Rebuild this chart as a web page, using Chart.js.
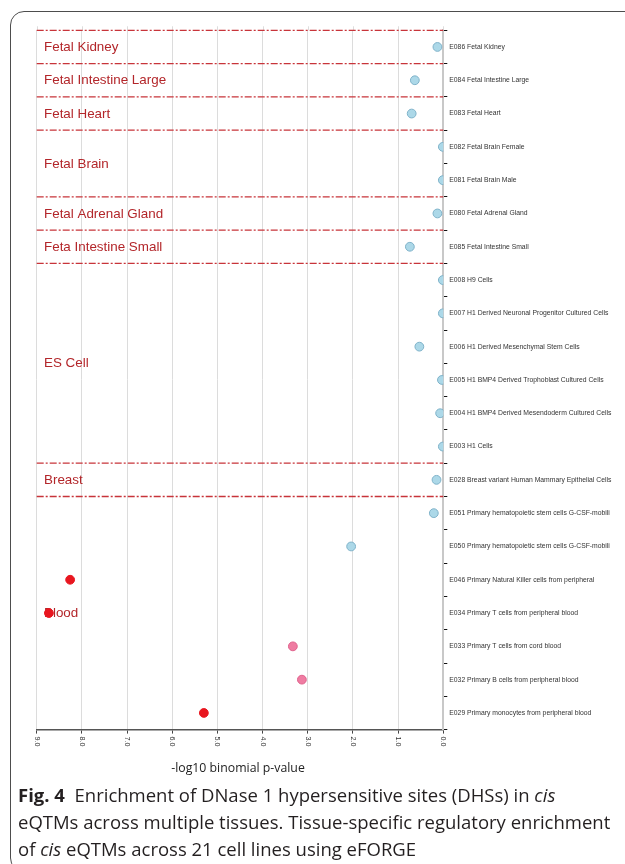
<!DOCTYPE html>
<html>
<head>
<meta charset="utf-8">
<script src="https://cdn.jsdelivr.net/npm/chart.js@4/dist/chart.umd.min.js"></script>
<style>
  html, body { margin: 0; padding: 0; background: #fff; }
  body { width: 625px; height: 864px; position: relative; overflow: hidden; }
  #frame {
    position: absolute; left: 10px; top: 11px; width: 700px; height: 861px;
    border: 1.5px solid #4d4d4d; border-radius: 14px; box-sizing: border-box;
  }
  #chart { position: absolute; left: 0; top: 0; }
  #xtitle {
    position: absolute; left: 138px; top: 759px; width: 200px; text-align: center;
    font-family: "Open Sans", sans-serif; font-size: 12.3px; line-height: 18px; color: #222;
  }
  #caption {
    position: absolute; left: 18px; top: 781px; width: 620px;
    font-family: "Open Sans", sans-serif; font-size: 18.5px; line-height: 27px;
    color: #231f20; letter-spacing: 0px; white-space: nowrap;
  }
  #caption b { font-weight: 700; }
</style>
</head>
<body>
<div id="frame"></div>
<canvas id="chart" width="625" height="864"></canvas>
<div id="xtitle">-log10 binomial p-value</div>
<div id="caption"><b>Fig. 4</b>&nbsp; Enrichment of DNase 1 hypersensitive sites (DHSs) in <i>cis</i><br>eQTMs across multiple tissues. Tissue-specific regulatory enrichment<br>of <i>cis</i> eQTMs across 21 cell lines using eFORGE</div>
<script>
// Cell lines, top to bottom
const cellLines = [
  'E086 Fetal Kidney',
  'E084 Fetal Intestine Large',
  'E083 Fetal Heart',
  'E082 Fetal Brain Female',
  'E081 Fetal Brain Male',
  'E080 Fetal Adrenal Gland',
  'E085 Fetal Intestine Small',
  'E008 H9 Cells',
  'E007 H1 Derived Neuronal Progenitor Cultured Cells',
  'E006 H1 Derived Mesenchymal Stem Cells',
  'E005 H1 BMP4 Derived Trophoblast Cultured Cells',
  'E004 H1 BMP4 Derived Mesendoderm Cultured Cells',
  'E003 H1 Cells',
  'E028 Breast variant Human Mammary Epithelial Cells',
  'E051 Primary hematopoietic stem cells G-CSF-mobili',
  'E050 Primary hematopoietic stem cells G-CSF-mobili',
  'E046 Primary Natural Killer cells from peripheral',
  'E034 Primary T cells from peripheral blood',
  'E033 Primary T cells from cord blood',
  'E032 Primary B cells from peripheral blood',
  'E029 Primary monocytes from peripheral blood'
];

// -log10 binomial p-value per cell line
const negLogP = [
  0.13, 0.63, 0.70, 0.01, 0.01, 0.13, 0.74,
  0.01, 0.01, 0.53, 0.03, 0.07, 0.01,
  0.15,
  0.21, 2.04, 8.26, 8.73, 3.33, 3.13, 5.30
];

// Tissue groups and how many cell lines each spans
const tissueNames = [
  'Fetal Kidney', 'Fetal Intestine Large', 'Fetal Heart', 'Fetal Brain',
  'Fetal Adrenal Gland', 'Feta Intestine Small', 'ES Cell', 'Breast', 'Blood'
];
const tissueSizes = [1, 1, 1, 2, 1, 1, 6, 1, 7];

const xTickLabels = ['0.0', '1.0', '2.0', '3.0', '4.0', '5.0', '6.0', '7.0', '8.0', '9.0'];

// Significance colouring
function fillFor(v) {
  if (v >= 5) return '#e8161f';
  if (v >= 3) return '#ef7ca2';
  return '#acd8e8';
}
function edgeFor(v) {
  if (v >= 5) return '#e8161f';
  if (v >= 3) return '#e0628c';
  return '#7fb2c9';
}

const points = cellLines.map((name, i) => ({ x: negLogP[i], y: name }));

const tissueBands = {
  id: 'tissueBands',
  beforeDatasetsDraw(chart) {
    const { ctx, chartArea } = chart;
    const ys = chart.scales.y;
    const xs = chart.scales.x;
    const step = ys.getPixelForValue(1) - ys.getPixelForValue(0);
    ctx.save();
    // short continuation of the vertical grid above the first band
    ctx.strokeStyle = '#dcdcdc';
    ctx.lineWidth = 1;
    xTickLabels.forEach(lbl => {
      const px = Math.round(xs.getPixelForValue(parseFloat(lbl))) + 0.5;
      ctx.beginPath();
      ctx.moveTo(px, chartArea.top - 4);
      ctx.lineTo(px, chartArea.top);
      ctx.stroke();
    });
    let start = 0;
    tissueNames.forEach((name, g) => {
      const end = start + tissueSizes[g] - 1;
      const top = ys.getPixelForValue(start) - step / 2;
      ctx.strokeStyle = '#c8343a';
      ctx.lineWidth = 1.3;
      ctx.setLineDash([7, 2, 2, 2]);
      ctx.beginPath();
      ctx.moveTo(chartArea.left, top);
      ctx.lineTo(chartArea.right, top);
      ctx.stroke();
      const mid = (ys.getPixelForValue(start) + ys.getPixelForValue(end)) / 2;
      ctx.setLineDash([]);
      ctx.fillStyle = '#b3262a';
      ctx.font = '13.4px "Liberation Sans", Arial, sans-serif';
      ctx.textBaseline = 'middle';
      ctx.textAlign = 'left';
      ctx.fillText(name, chartArea.left + 7.3, mid + 0.5);
      start = end + 1;
    });
    ctx.restore();
  }
};

const rotatedXTicks = {
  id: 'rotatedXTicks',
  afterDraw(chart) {
    const { ctx, chartArea } = chart;
    const xs = chart.scales.x;
    ctx.save();
    ctx.fillStyle = '#333';
    ctx.font = '7.2px "Liberation Sans", Arial, sans-serif';
    ctx.textBaseline = 'middle';
    ctx.textAlign = 'left';
    xTickLabels.forEach(lbl => {
      const px = xs.getPixelForValue(parseFloat(lbl));
      ctx.save();
      ctx.translate(px, chartArea.bottom + 7);
      ctx.rotate(Math.PI / 2);
      ctx.fillText(lbl, 0, 0);
      ctx.restore();
    });
    ctx.restore();
  }
};

new Chart(document.getElementById('chart'), {
  type: 'scatter',
  data: {
    datasets: [{
      data: points,
      pointRadius: 4.4,
      pointHoverRadius: 4.4,
      pointBorderWidth: 1,
      pointBackgroundColor: c => fillFor(c.raw ? c.raw.x : 0),
      pointBorderColor: c => edgeFor(c.raw ? c.raw.x : 0)
    }]
  },
  options: {
    responsive: false,
    devicePixelRatio: 1,
    animation: false,
    events: [],
    layout: { padding: { left: 36.7, top: 30.3, right: 0, bottom: 104.4 } },
    plugins: { legend: { display: false }, tooltip: { enabled: false } },
    scales: {
      x: {
        type: 'linear',
        reverse: true,
        min: 0,
        max: 9,
        afterFit: s => { s.height = 30; },
        ticks: { display: false, stepSize: 1 },
        grid: { color: '#dcdcdc', lineWidth: 1, tickColor: '#444', tickLength: 4 },
        border: { color: '#555', width: 1.5 }
      },
      y: {
        type: 'category',
        labels: cellLines,
        position: 'right',
        offset: true,
        afterFit: s => { s.width = 181.7; },
        ticks: {
          color: '#333',
          padding: 2,
          font: { family: '"Liberation Sans", Arial, sans-serif', size: 6.8 }
        },
        grid: { offset: true, drawOnChartArea: false, tickLength: 4, color: '#111', tickColor: '#111' },
        border: { color: '#c8c8c8', width: 2 }
      }
    }
  },
  plugins: [tissueBands, rotatedXTicks]
});
</script>
</body>
</html>
